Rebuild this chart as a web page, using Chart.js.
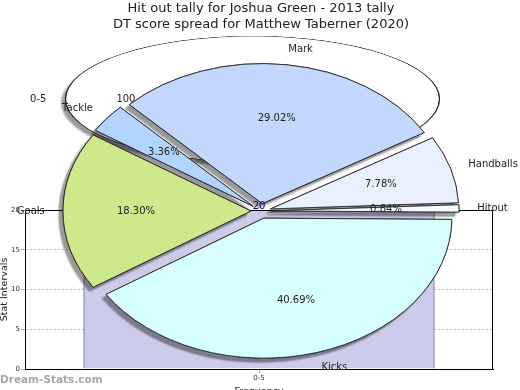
<!DOCTYPE html>
<html><head><meta charset="utf-8">
<script src="https://cdn.jsdelivr.net/npm/chart.js@4.4.0/dist/chart.umd.min.js"></script>
<style>
html,body{margin:0;padding:0;background:#fff;}
#wrap{position:relative;width:520px;height:390px;overflow:hidden;background:#fff;}
#wrap canvas{position:absolute;left:0;top:0;}
</style></head><body>
<div id="wrap">
<canvas id="bar" width="520" height="390"></canvas>
<canvas id="ell" width="520" height="390"></canvas>
<canvas id="pie" width="520" height="390"></canvas>
</div>
<script>
const titleLines = ['Hit out tally for Joshua Green - 2013 tally', 'DT score spread for Matthew Taberner (2020)'];
const pieLabels = ['Mark', 'Handballs', 'Hitout', 'Kicks', 'Goals', 'Tackle'];
const pieValues = [29.02, 7.78, 0.84, 40.69, 18.30, 3.36];
const pieColors = ['#c4d8ff', '#e9f0ff', '#f6f9ff', '#d8ffff', '#cde98a', '#b3d4ff'];
const ringLabels = ['0-5'];
const ringValues = [100];
const barCategories = ['0-5'];
const barValues = [20];
const yTickStep = 5;
const yMax = 20;

Chart.defaults.font.family = '"DejaVu Sans", sans-serif';
Chart.defaults.color = '#222';

function squashPlugin(id, k, off) {
  return {
    id: id,
    beforeDatasetsDraw(chart) {
      const ctx = chart.ctx;
      const metas = chart.data.datasets.map((d, i) => chart.getDatasetMeta(i));
      if (!metas.length || !metas[0].data.length) return;
      const cx = metas[0].data[0].x, cy = metas[0].data[0].y;
      for (const pass of [0, 1]) {
        ctx.save();
        ctx.translate(cx, cy); ctx.scale(1, k); ctx.translate(-cx, -cy);
        if (pass === 0) {
          ctx.shadowColor = 'rgba(0,0,0,0.4)';
          ctx.shadowOffsetX = -4; ctx.shadowOffsetY = 4; ctx.shadowBlur = 2;
        }
        metas.forEach(meta => meta.data.forEach(arc => {
          const mid = (arc.startAngle + arc.endAngle) / 2;
          ctx.save();
          ctx.translate(Math.cos(mid) * off, Math.sin(mid) * off);
          arc.draw(ctx);
          ctx.restore();
        }));
        ctx.restore();
      }
      return false;
    }
  };
}

function labelPlugin(id, k, labels, values, fmt, labelRx, labelRy, valueR) {
  return {
    id: id,
    afterDraw(chart) {
      const ctx = chart.ctx;
      const meta = chart.getDatasetMeta(0);
      ctx.save();
      ctx.font = '10px "DejaVu Sans"';
      ctx.fillStyle = '#222';
      ctx.textBaseline = 'middle';
      meta.data.forEach((arc, i) => {
        const mid = (arc.startAngle + arc.endAngle) / 2;
        const c = Math.cos(mid), s = Math.sin(mid);
        const R = arc.outerRadius;
        ctx.textAlign = 'center';
        ctx.fillText(fmt(values[i]), arc.x + c * R * valueR, arc.y + s * R * valueR * k);
        ctx.textAlign = c >= 0 ? 'left' : 'right';
        ctx.fillText(labels[i], arc.x + c * R * labelRx, arc.y + s * R * labelRy * k + s * 5);
      });
      ctx.restore();
    }
  };
}

const framePlugin = {
  id: 'frame',
  afterDraw(chart) {
    const ctx = chart.ctx, a = chart.chartArea;
    ctx.save();
    ctx.strokeStyle = '#000'; ctx.lineWidth = 1;
    ctx.strokeRect(Math.round(a.left) + 0.5, Math.round(a.top) + 0.5, Math.round(a.right - a.left) - 1, Math.round(a.bottom - a.top));
    ctx.font = 'bold 10.5px "DejaVu Sans"';
    ctx.fillStyle = '#a8a8a8';
    ctx.textAlign = 'left'; ctx.textBaseline = 'middle';
    ctx.fillText('Dream-Stats.com', 0, 380);
    ctx.restore();
  }
};

const barChart = new Chart(document.getElementById('bar'), {
  type: 'bar',
  data: {
    labels: barCategories,
    datasets: [{
      data: barValues,
      backgroundColor: '#ccccea',
      borderColor: '#000080',
      borderWidth: {left: 1, right: 1, top: 1, bottom: 0},
      barPercentage: 0.75,
      categoryPercentage: 1
    }]
  },
  options: {
    responsive: false,
    animation: false,
    layout: {padding: {top: 210, right: 27, left: 0, bottom: 0}},
    plugins: {legend: {display: false}, tooltip: {enabled: false}, title: {display: false}},
    scales: {
      x: {
        ticks: {font: {size: 7}, color: '#333', padding: 1},
        grid: {display: true, drawOnChartArea: false, offset: false, tickLength: 4, tickColor: '#aaa'},
        border: {color: '#000'},
        title: {display: true, text: 'Frequency', font: {size: 9.5, lineHeight: 1}, color: '#222', padding: {top: 0, bottom: -6}},
        afterFit(s) { s.height = 21; }
      },
      y: {
        min: 0, max: yMax,
        ticks: {stepSize: yTickStep, font: {size: 7}, color: '#333', padding: 1},
        grid: {color: '#bbb', tickLength: 4, tickColor: '#aaa', tickBorderDash: []},
        border: {color: '#000', dash: [2, 2]},
        title: {display: true, text: 'Stat Intervals', font: {size: 9.5, lineHeight: 1}, color: '#222', padding: 0},
        afterFit(s) { s.width = 25; }
      }
    }
  },
  plugins: [framePlugin]
});

const ELL_K = 63 / 187.5;
const ringChart = new Chart(document.getElementById('ell'), {
  type: 'pie',
  data: {
    labels: ringLabels,
    datasets: [
      {data: ringValues, backgroundColor: '#262626', borderWidth: 0, weight: 1.3, rotation: 90, radius: 187.5},
      {data: ringValues, backgroundColor: '#ffffff', borderWidth: 0, weight: 186.2, rotation: 90, radius: 187.5}
    ]
  },
  options: {
    responsive: false, animation: false,
    rotation: 90, radius: 187.5,
    layout: {padding: {top: 0, bottom: 192, left: 0, right: 15}},
    plugins: {legend: {display: false}, tooltip: {enabled: false}}
  },
  plugins: [squashPlugin('squashRing', ELL_K, 0),
            labelPlugin('ringLabels', ELL_K, ringLabels, ringValues, v => String(v), 1.099, 1.099, 0.675)]
});

const PIE_K = 140 / 188;
const barLabelPlugin = {
  id: 'barLabel',
  afterDraw(chart) {
    const ctx = chart.ctx;
    const xs = barChart.scales.x, ys = barChart.scales.y;
    ctx.save();
    ctx.font = '10px "DejaVu Sans"';
    ctx.fillStyle = '#000080';
    ctx.textAlign = 'center'; ctx.textBaseline = 'bottom';
    barValues.forEach((v, i) => {
      ctx.fillText(String(v), xs.getPixelForValue(i), ys.getPixelForValue(v) + 1);
    });
    ctx.restore();
  }
};
const pieChart = new Chart(document.getElementById('pie'), {
  type: 'pie',
  data: {
    labels: pieLabels,
    datasets: [{data: pieValues, backgroundColor: pieColors, borderColor: '#222', borderWidth: 1,
      rotation: -45, radius: 188}]
  },
  options: {
    responsive: false, animation: false,
    rotation: -45, radius: 188,
    layout: {padding: {top: 0, bottom: 1, left: 2, right: 0}},
    plugins: {
      legend: {display: false}, tooltip: {enabled: false},
      title: {display: true, text: titleLines, font: {size: 13, weight: 'normal', lineHeight: 16 / 13}, color: '#222', padding: {top: 1, bottom: 0}}
    }
  },
  plugins: [squashPlugin('squashPie', PIE_K, 10),
            labelPlugin('pieLabels', PIE_K, pieLabels, pieValues, v => v.toFixed(2) + '%', 1.15, 1.128, 0.665),
            barLabelPlugin]
});
</script>
</body></html>
